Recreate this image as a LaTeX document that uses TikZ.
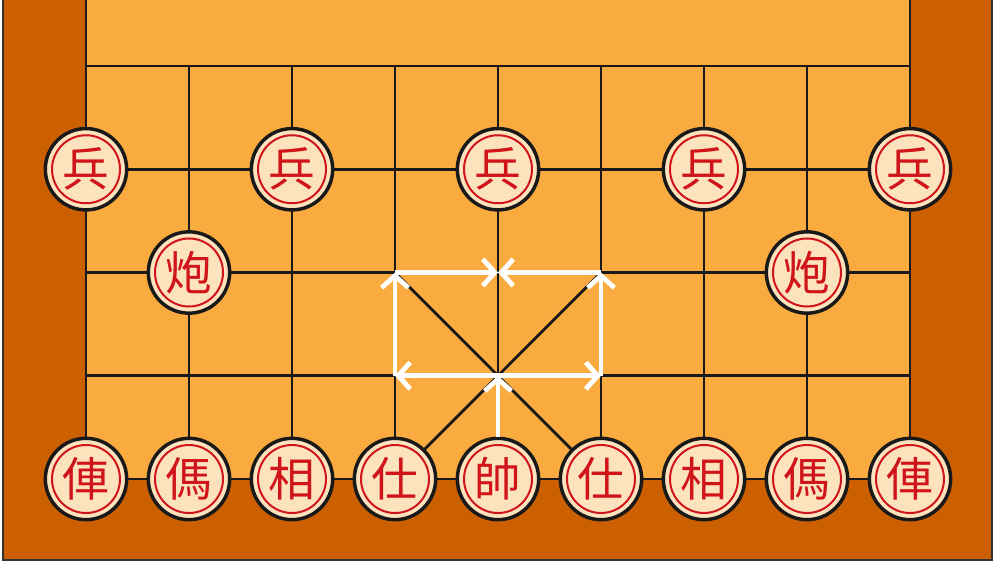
\documentclass[tikz,border=0pt]{standalone}
\usepackage{fontspec}
\newfontfamily\cjk{Noto Sans CJK TC}
\usetikzlibrary{arrows.meta}
\definecolor{frameC}{HTML}{CC6000}
\definecolor{boardC}{HTML}{F9AB40}
\definecolor{creamC}{HTML}{FCE3BE}
\definecolor{redC}{HTML}{D0141A}
\begin{document}
\begin{tikzpicture}[x=0.75pt,y=-0.75pt,
  gridline/.style={black!90, line width=2.1pt},
  piece/.style={circle, draw=black!90, line width=2.6pt, fill=creamC,
    minimum size=61pt, inner sep=0pt, text=redC,
    font=\cjk\fontsize{35}{35}\selectfont,
    path picture={\draw[redC, line width=1.5pt] (path picture bounding box.center) circle (25.5pt);}},
  wa/.style={white, line width=3.6pt, -{Straight Barb[length=9pt,width=20pt]}}]
\useasboundingbox (0,0) rectangle (1000,563);
\fill[white] (0,0) rectangle (1000,563);
\draw[fill=frameC, draw=black!80, line width=1.5pt] (3,-10) rectangle (992,560);
\fill[boardC] (86,-10) rectangle (910,479);
% grid coordinates
\foreach \c in {0,...,8}{
  \foreach \r in {0,...,4}{
    \coordinate (g\c\r) at ({86+103*\c},{66+103.25*\r});
  }
}
\coordinate (topL) at (86,-10);
\coordinate (topR) at (910,-10);
\draw[gridline] (topL) -- (g04);
\draw[gridline] (topR) -- (g84);
\foreach \c in {1,...,7}{ \draw[gridline] (g\c0) -- (g\c4); }
\foreach \r in {0,...,4}{ \draw[gridline] (g0\r) -- (g8\r); }
\draw[gridline] (g32) -- (g54);
\draw[gridline] (g52) -- (g34);
% pieces
\node[piece] (b0) at (g01) {兵};
\node[piece] (b2) at (g21) {兵};
\node[piece] (b4) at (g41) {兵};
\node[piece] (b6) at (g61) {兵};
\node[piece] (b8) at (g81) {兵};
\node[piece] (c1) at (g12) {炮};
\node[piece] (c7) at (g72) {炮};
\node[piece] (r0) at (g04) {俥};
\node[piece] (h1) at (g14) {傌};
\node[piece] (e2) at (g24) {相};
\node[piece] (a3) at (g34) {仕};
\node[piece] (k4) at (g44) {帥};
\node[piece] (a5) at (g54) {仕};
\node[piece] (e6) at (g64) {相};
\node[piece] (h7) at (g74) {傌};
\node[piece] (r8) at (g84) {俥};
% moves
\draw[wa] (k4.north) -- (g43);
\draw[wa] (g43) -- (g33);
\draw[wa] (g43) -- (g53);
\draw[wa] (g33) -- (g32);
\draw[wa] (g32) -- (g42);
\draw[wa] (g53) -- (g52);
\draw[wa] (g52) -- (g42);
\end{tikzpicture}
\end{document}
